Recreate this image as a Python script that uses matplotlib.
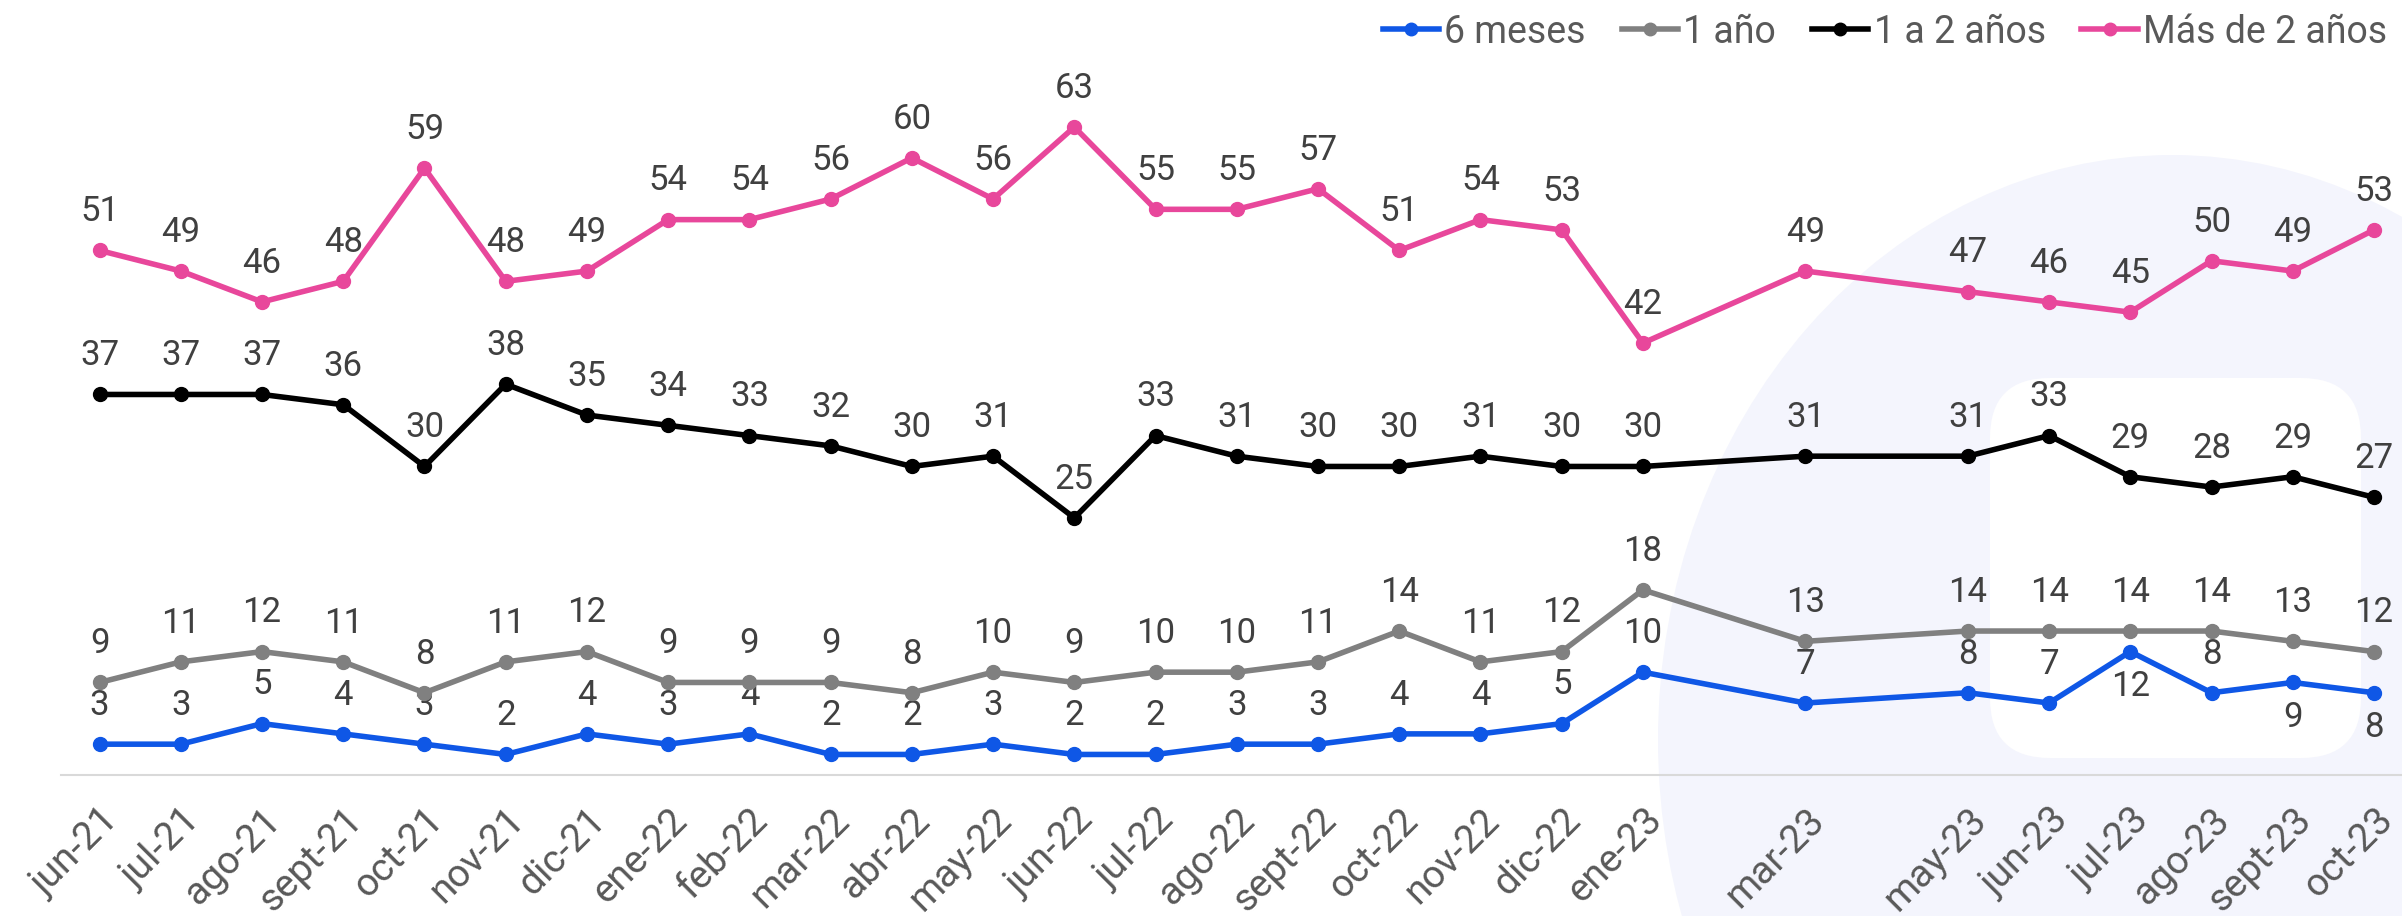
import matplotlib
matplotlib.use("Agg")
import matplotlib.pyplot as plt
import matplotlib.patches as patches
from matplotlib.transforms import IdentityTransform
from matplotlib.lines import Line2D

# --- Data ---
months = ["jun-21", "jul-21", "ago-21", "sept-21", "oct-21", "nov-21", "dic-21",
          "ene-22", "feb-22", "mar-22", "abr-22", "may-22", "jun-22", "jul-22",
          "ago-22", "sept-22", "oct-22", "nov-22", "dic-22", "ene-23", "mar-23",
          "may-23", "jun-23", "jul-23", "ago-23", "sept-23", "oct-23"]

seis_meses = [3, 3, 5, 4, 3, 2, 4, 3, 4, 2, 2, 3, 2, 2, 3, 3, 4, 4, 5, 10, 7, 8, 7, 12, 8, 9, 8]
un_anio = [9, 11, 12, 11, 8, 11, 12, 9, 9, 9, 8, 10, 9, 10, 10, 11, 14, 11, 12, 18, 13, 14, 14, 14, 14, 13, 12]
uno_a_dos = [37, 37, 37, 36, 30, 38, 35, 34, 33, 32, 30, 31, 25, 33, 31, 30, 30, 31, 30, 30, 31, 31, 33, 29, 28, 29, 27]
mas_de_dos = [51, 49, 46, 48, 59, 48, 49, 54, 54, 56, 60, 56, 63, 55, 55, 57, 51, 54, 53, 42, 49, 47, 46, 45, 50, 49, 53]

series_names = ["6 meses", "1 año", "1 a 2 años", "Más de 2 años"]
series_colors = ["#0f57e6", "#808080", "#000000", "#e8479b"]

# months whose "6 meses" label sits under the point
below_labels = {"jul-23", "sept-23", "oct-23"}

MONTH_NUM = {"ene": 1, "feb": 2, "mar": 3, "abr": 4, "may": 5, "jun": 6,
             "jul": 7, "ago": 8, "sept": 9, "oct": 10, "nov": 11, "dic": 12}


def month_pos(label):
    """Months elapsed since jun-21, so gaps in the survey stay visible."""
    name, yy = label.split("-")
    return (int(yy) - 21) * 12 + MONTH_NUM[name] - 6


x = [month_pos(m) for m in months]

plt.rcParams['font.family'] = ['Roboto', 'DejaVu Sans']

W, H = 2402, 916
fig = plt.figure(figsize=(W / 100, H / 100), dpi=100)
fig.patch.set_facecolor("white")

# faint background logo (pixel coords, origin bottom-left)
ell = patches.Ellipse((2172, H - 740), 2 * 514, 2 * 585, facecolor="#f4f5fd",
                      edgecolor="none", transform=IdentityTransform(), zorder=-2)
fig.add_artist(ell)
hole = patches.FancyBboxPatch((1990, H - 758), 2361 - 1990, 758 - 378,
                              boxstyle="round,pad=0,rounding_size=60",
                              facecolor="white", edgecolor="none",
                              transform=IdentityTransform(), zorder=-1)
fig.add_artist(hole)

ax = fig.add_axes([61 / W, 0.1539, 1 - 61 / W, 0.786])
ax.patch.set_alpha(0)

all_series = [seis_meses, un_anio, uno_a_dos, mas_de_dos]
for name, vals, col in zip(series_names, all_series, series_colors):
    ax.plot(x, vals, color=col, lw=4, marker="o", markersize=10,
            solid_capstyle="round", label=name, zorder=3)
    for m, xi, v in zip(months, x, vals):
        if name == "6 meses" and m in below_labels:
            ax.annotate(str(v), (xi, v), xytext=(0, -13), textcoords="offset points",
                        ha="center", va="top", fontsize=25, color="#404040")
        else:
            ax.annotate(str(v), (xi, v), xytext=(0, 21), textcoords="offset points",
                        ha="center", va="baseline", fontsize=25, color="#404040")

ax.set_xlim(-0.475, 28.345)
ax.set_ylim(0, 70)
ax.set_yticks([])
ax.set_xticks(x)
ax.set_xticklabels(months, rotation=45, ha="right", va="top",
                   rotation_mode="anchor", fontsize=28, color="#595959")
ax.tick_params(axis="x", length=0, pad=19)
for s in ["top", "right", "left"]:
    ax.spines[s].set_visible(False)
ax.spines["bottom"].set_color("#d9d9d9")
ax.spines["bottom"].set_linewidth(1.5)

handles = [Line2D([0], [0], color=c, lw=4, marker="o", markersize=9)
           for c in series_colors]
leg = fig.legend(handles, series_names, loc="upper right", bbox_to_anchor=(1.008, 1.022),
                 ncol=4, frameon=False, fontsize=27, handlelength=1.5,
                 handletextpad=0.15, columnspacing=0.95)
for t in leg.get_texts():
    t.set_color("#595959")

fig.savefig("out.png", dpi=100)
